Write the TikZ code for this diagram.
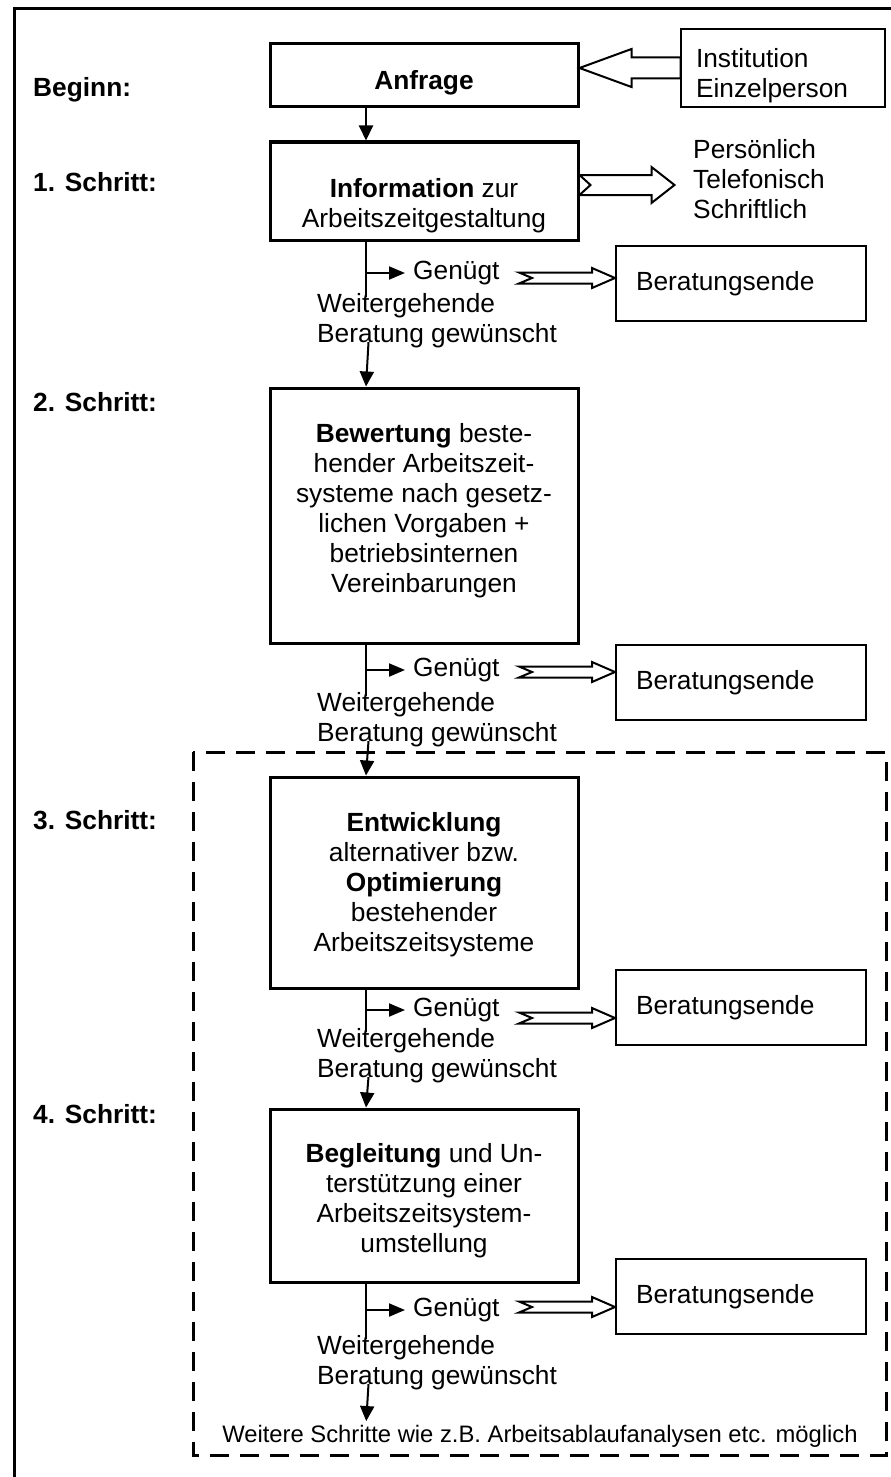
\documentclass[tikz,border=0pt]{standalone}
\usepackage{fontspec}
\setmainfont{Liberation Sans}
\usetikzlibrary{arrows.meta,calc}

\newcommand\mainsize{\fontsize{26.3pt}{30pt}\selectfont}
\newcommand\smallsize{\fontsize{23.8pt}{28pt}\selectfont}
% box text: total height, space above first line, lines
\newcommand\stepcontent[3]{\parbox[c][#1][t]{308pt}{\centering\vspace*{#2}\strut #3}}
\newcommand\stacklines[1]{\parbox[t]{250pt}{\raggedright #1}}
% hollow arrow with notched tail, tip at #1 shifted vertically by #2
\newcommand\swallow[2]{\draw[hollow, shift={($(#1)+(0,#2)$)}]
  (0,0) -- (-23,-10) -- (-23,-5.5) -- (-96,-5.5) -- (-83,0) -- (-96,5.5)
  -- (-23,5.5) -- (-23,10) -- cycle;}

\begin{document}
\begin{tikzpicture}[x=1pt,y=-1pt,
  stepbox/.style={draw, line width=3pt, inner sep=0pt, font=\mainsize},
  endbox/.style={draw, line width=2pt, inner sep=0pt, minimum width=250pt,
    minimum height=75pt, font=\mainsize},
  txt/.style={inner sep=0pt, font=\mainsize},
  steplab/.style={inner sep=0pt, anchor=west, font=\mainsize\bfseries},
  conn/.style={line width=2pt},
  flowarrow/.style={conn, -{Triangle[length=15pt,width=14pt]}},
  okarrow/.style={conn, -{Triangle[length=16pt,width=13pt]}},
  hollow/.style={draw, line width=2pt, fill=white, line join=miter},
  frame/.style={line width=3pt},
  groupframe/.style={line width=3pt, dash pattern=on 19pt off 11pt}]

\useasboundingbox (0,0) rectangle (891,1477);
\clip (0,0) rectangle (891,1477);
\fill[white] (0,0) rectangle (891,1477);

% open outer frame
\draw[frame] (14,1500) -- (14,9) -- (920,9);

% dashed frame around steps 3 and 4
\draw[groupframe] (193,752) rectangle (886,1455);

% step labels
\node[steplab] (l0) at (33,90)   {Beginn:};
\node[steplab] (l1) at (33,182)  {1. Schritt:};
\node[steplab] (l2) at (33,402)  {2. Schritt:};
\node[steplab] (l3) at (33,820)  {3. Schritt:};
\node[steplab] (l4) at (33,1114) {4. Schritt:};

% main column
\node[stepbox] (s0) at (424,75.5)
  {\stepcontent{63pt}{24.4pt}{\textbf{Anfrage}}};
\node[stepbox] (s1) at (424,191)
  {\stepcontent{98pt}{34.4pt}{\textbf{Information} zur\\Arbeitszeitgestaltung}};
\node[stepbox] (s2) at (424,515.5)
  {\stepcontent{255pt}{33.5pt}{\textbf{Bewertung} beste-\\hender Arbeitszeit-\\systeme nach gesetz-\\lichen Vorgaben +\\betriebsinternen\\Vereinbarungen}};
\node[stepbox] (s3) at (424,882.5)
  {\stepcontent{211pt}{33.5pt}{\textbf{Entwicklung}\\alternativer bzw.\\\textbf{Optimierung}\\bestehender\\Arbeitszeitsysteme}};
\node[stepbox] (s4) at (424,1195.5)
  {\stepcontent{173pt}{32.5pt}{\textbf{Begleitung} und Un-\\terstützung einer\\Arbeitszeitsystem-\\umstellung}};

% request source and information channels
\node[draw, line width=2pt, inner sep=0pt, font=\mainsize] (inst) at (783,68)
  {\parbox[c][78pt][t]{204pt}{\raggedright\leftskip=15pt\vspace*{17.4pt}\strut Institution\\Einzelperson}};
\node[txt, anchor=base west] (via) at (693,158.4)
  {\stacklines{Persönlich\\Telefonisch\\Schriftlich}};

\draw[hollow, shift={($(s0.east)+(0,-7.5)$)}]
  (0,0) -- (52,-19) -- (52,-10.5) -- (101,-10.5) -- (101,10.5)
  -- (52,10.5) -- (52,19) -- cycle;
\draw[hollow, shift={($(s1.east)+(0,-6)$)}]
  (0,-10) -- (72,-10) -- (72,-18) -- (95,0) -- (72,18) -- (72,10)
  -- (0,10) -- (11,0) -- cycle;

% end-of-consultation boxes
\node[endbox] (e1) at (741,283.5)  {\makebox[250pt][l]{\hspace*{20pt}Beratungsende}};
\node[endbox] (e2) at (741,682.5)  {\makebox[250pt][l]{\hspace*{20pt}Beratungsende}};
\node[endbox] (e3) at (741,1007.5) {\makebox[250pt][l]{\hspace*{20pt}Beratungsende}};
\node[endbox] (e4) at (741,1296.5) {\makebox[250pt][l]{\hspace*{20pt}Beratungsende}};

% decision texts
\node[txt, anchor=west] (g1) at (413,273)  {Genügt};
\node[txt, anchor=west] (g2) at (413,670)  {Genügt};
\node[txt, anchor=west] (g3) at (413,1010) {Genügt};
\node[txt, anchor=west] (g4) at (413,1310) {Genügt};
\node[txt, anchor=base west] (w1) at (317,312.4)  {\stacklines{Weitergehende\\Beratung gewünscht}};
\node[txt, anchor=base west] (w2) at (317,711.4)  {\stacklines{Weitergehende\\Beratung gewünscht}};
\node[txt, anchor=base west] (w3) at (317,1047.4) {\stacklines{Weitergehende\\Beratung gewünscht}};
\node[txt, anchor=base west] (w4) at (317,1354.4) {\stacklines{Weitergehende\\Beratung gewünscht}};

\node[inner sep=0pt, font=\smallsize, anchor=base] (more) at (540,1442.5)
  {Weitere Schritte wie z.B. Arbeitsablaufanalysen etc. möglich};

% connectors
\coordinate (stem) at (366,0);
\draw[flowarrow] (stem |- s0.south) -- (stem |- s1.north);

\foreach \s/\g/\w/\n in {s1/g1/w1/s2, s2/g2/w2/s3, s3/g3/w3/s4}{
  \draw[conn] (stem |- \s.south) -- ($(stem |- \w.north)+(0,4)$);
  \draw[okarrow] (stem |- \g.west) -- ([xshift=-8pt]\g.west);
  \draw[flowarrow] ($(stem |- \w.south)+(2.5,-6)$) -- (stem |- \n.north);
}
\draw[conn] (stem |- s4.south) -- ($(stem |- w4.north)+(0,4)$);
\draw[okarrow] (stem |- g4.west) -- ([xshift=-8pt]g4.west);
\draw[flowarrow, shorten >=4pt] ($(stem |- w4.south)+(2.5,-6)$) -- (stem |- more.north);

% hollow arrows to the end boxes
\swallow{e1.west}{-5.5}
\swallow{e2.west}{-10.5}
\swallow{e3.west}{10.5}
\swallow{e4.west}{10.5}

\end{tikzpicture}
\end{document}
